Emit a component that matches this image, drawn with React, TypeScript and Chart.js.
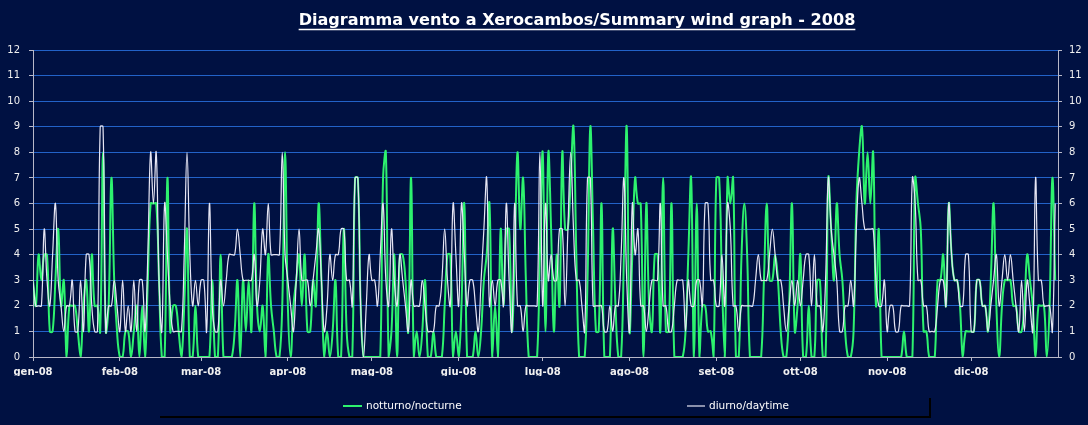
import React, { useEffect, useRef } from 'react';
import { Chart, registerables } from 'chart.js';

Chart.register(...registerables);

const TITLE = 'Diagramma vento a Xerocambos/Summary wind graph - 2008';
const seriesNames = ['notturno/nocturne', 'diurno/daytime'];
const monthLabels = ['gen-08', 'feb-08', 'mar-08', 'apr-08', 'mag-08', 'giu-08', 'lug-08', 'ago-08', 'set-08', 'ott-08', 'nov-08', 'dic-08'];
const monthStartDays = [0, 31, 60, 91, 121, 152, 182, 213, 244, 274, 305, 335];

// notturno / nocturne (green)
const nocturneJan = [3, 2, 4, 3, 4, 4, 1, 1, 3, 5, 2, 3, 0, 2, 2, 2, 1, 0, 2, 3, 1, 4, 2, 2, 1, 8, 1, 2, 7, 3, 1];
const nocturneFeb = [0, 0, 1, 1, 0, 1, 2, 0, 2, 0, 3, 6, 6, 6, 3, 0, 0, 7, 1, 2, 2, 1, 0, 2, 5, 0, 0, 2, 0];
const nocturneMar = [0, 0, 0, 0, 3, 0, 0, 4, 0, 0, 0, 0, 1, 3, 0, 3, 1, 3, 1, 6, 2, 1, 2, 0, 4, 2, 1, 0, 0, 2, 8];
const nocturneApr = [2, 0, 2, 3, 4, 2, 4, 1, 1, 3, 2, 6, 3, 0, 1, 0, 1, 3, 0, 0, 5, 1, 0, 0, 7, 7, 2, 0, 0, 0];
const nocturneMay = [0, 0, 0, 0, 7, 8, 0, 1, 4, 0, 4, 4, 3, 1, 7, 0, 1, 0, 1, 3, 0, 0, 1, 0, 0, 0, 2, 4, 4, 0, 1];
const nocturneJun = [0, 2, 6, 0, 0, 0, 1, 0, 1, 3, 4, 6, 0, 2, 0, 5, 2, 5, 5, 1, 4, 8, 5, 7, 3, 0, 0, 0, 0, 4];
const nocturneJul = [8, 1, 8, 5, 1, 4, 2, 8, 5, 5, 7, 9, 4, 0, 0, 0, 3, 9, 5, 1, 1, 6, 0, 0, 0, 5, 2, 0, 0, 4, 9];
const nocturneAug = [1, 4, 7, 6, 6, 0, 6, 2, 1, 4, 4, 1, 7, 1, 1, 6, 0, 0, 0, 0, 1, 4, 7, 0, 6, 0, 2, 2, 1, 1, 0];
const nocturneSep = [7, 7, 3, 0, 7, 6, 7, 0, 0, 4, 6, 4, 0, 0, 0, 0, 0, 3, 6, 3, 3, 4, 3, 1, 0, 0, 2, 6, 1, 2];
const nocturneOct = [4, 0, 0, 2, 0, 0, 3, 3, 0, 0, 7, 5, 3, 6, 4, 3, 1, 0, 0, 1, 6, 8, 9, 6, 8, 6, 8, 2, 5, 0, 0];
const nocturneNov = [0, 0, 0, 0, 0, 0, 1, 0, 0, 0, 7, 6, 5, 1, 1, 0, 0, 0, 3, 3, 4, 2, 6, 4, 3, 3, 2, 0, 1, 1];
const nocturneDec = [1, 1, 3, 3, 2, 2, 1, 3, 6, 2, 0, 2, 3, 3, 3, 2, 2, 1, 1, 2, 4, 3, 2, 0, 2, 2, 2, 0, 2, 7, 3];

// diurno / daytime (white)
const daytimeJan = [3, 2, 2, 2, 5, 3, 2, 4, 6, 3, 2, 1, 2, 2, 3, 1, 1, 3, 1, 4, 4, 2, 1, 1, 9, 9, 1, 2, 2, 3, 2];
const daytimeFeb = [1, 3, 1, 2, 1, 3, 1, 3, 3, 1, 4, 8, 6, 8, 3, 1, 6, 4, 2, 1, 1, 1, 1, 4, 8, 4, 2, 3, 2];
const daytimeMar = [3, 3, 1, 6, 2, 1, 1, 3, 2, 3, 4, 4, 4, 5, 4, 3, 3, 3, 3, 4, 2, 3, 5, 4, 6, 4, 4, 4, 4, 8, 4];
const daytimeApr = [3, 2, 1, 3, 5, 3, 3, 3, 2, 3, 4, 5, 3, 1, 2, 4, 3, 4, 4, 5, 5, 3, 3, 2, 7, 7, 2, 0, 2, 4];
const daytimeMay = [3, 3, 2, 4, 6, 3, 2, 5, 3, 2, 4, 3, 2, 1, 3, 2, 2, 2, 3, 2, 1, 1, 1, 2, 2, 3, 5, 3, 2, 6, 4];
const daytimeJun = [2, 6, 4, 2, 3, 3, 2, 1, 3, 5, 7, 2, 3, 2, 3, 3, 2, 6, 3, 1, 6, 2, 2, 1, 2, 2, 2, 2, 2, 8];
const daytimeJul = [2, 6, 3, 4, 3, 3, 5, 5, 2, 5, 8, 5, 3, 3, 2, 1, 7, 7, 2, 2, 2, 2, 1, 1, 2, 1, 2, 2, 4, 7, 3];
const daytimeAug = [1, 6, 4, 5, 2, 2, 1, 2, 3, 3, 3, 6, 2, 2, 1, 1, 2, 3, 3, 3, 1, 3, 2, 2, 3, 3, 2, 6, 6, 3, 3];
const daytimeSep = [2, 2, 4, 2, 6, 5, 2, 2, 1, 2, 2, 2, 2, 2, 3, 4, 3, 3, 3, 4, 5, 4, 3, 3, 2, 1, 2, 3, 2, 3];
const daytimeOct = [2, 3, 4, 4, 2, 4, 2, 2, 1, 3, 7, 5, 4, 3, 1, 1, 2, 2, 3, 2, 5, 7, 6, 5, 5, 5, 5, 3, 2, 2, 3];
const daytimeNov = [1, 2, 2, 1, 1, 2, 2, 2, 2, 7, 6, 3, 3, 2, 2, 1, 1, 1, 2, 3, 3, 2, 6, 4, 3, 3, 2, 2, 4, 4];
const daytimeDec = [1, 1, 3, 3, 2, 2, 1, 2, 3, 4, 2, 3, 4, 3, 4, 3, 2, 1, 3, 1, 3, 2, 1, 7, 3, 3, 2, 2, 2, 1, 6];

const nocturne = [
  ...nocturneJan, ...nocturneFeb, ...nocturneMar, ...nocturneApr, ...nocturneMay, ...nocturneJun,
  ...nocturneJul, ...nocturneAug, ...nocturneSep, ...nocturneOct, ...nocturneNov, ...nocturneDec,
];
const daytime = [
  ...daytimeJan, ...daytimeFeb, ...daytimeMar, ...daytimeApr, ...daytimeMay, ...daytimeJun,
  ...daytimeJul, ...daytimeAug, ...daytimeSep, ...daytimeOct, ...daytimeNov, ...daytimeDec,
];

const BG = '#001142';
const GRID = '#2262c8';
const AXIS = '#b8b8c8';
const GREEN = '#2df26e';
const WHITE = '#e6e6f4';
const TEXT = '#f0f0f0';

const bgPlugin = {
  id: 'bgFill',
  beforeDraw(chart: any) {
    const { ctx, width, height } = chart;
    ctx.save();
    ctx.fillStyle = BG;
    ctx.fillRect(0, 0, width, height);
    ctx.restore();
  },
};

const titlePlugin = {
  id: 'underlinedTitle',
  afterDraw(chart: any) {
    const ctx = chart.ctx;
    ctx.save();
    ctx.font = 'bold 18px "DejaVu Sans"';
    const w0 = ctx.measureText(TITLE).width;
    const size = (18 * 557) / w0;
    ctx.font = `bold ${size}px "DejaVu Sans"`;
    const w = ctx.measureText(TITLE).width;
    const cx = 577;
    ctx.fillStyle = '#ffffff';
    ctx.textAlign = 'center';
    ctx.textBaseline = 'alphabetic';
    ctx.fillText(TITLE, cx, 25);
    ctx.strokeStyle = '#ffffff';
    ctx.lineWidth = 1.5;
    ctx.beginPath();
    ctx.moveTo(cx - w / 2, 29.5);
    ctx.lineTo(cx + w / 2, 29.5);
    ctx.stroke();
    ctx.restore();
  },
};

const legendPlugin = {
  id: 'customLegend',
  afterDraw(chart: any) {
    const ctx = chart.ctx;
    ctx.save();
    ctx.fillStyle = '#000000';
    ctx.fillRect(160, 416, 771, 2);
    ctx.fillRect(929, 398, 2, 20);
    const y = 406;
    ctx.font = '10.5px "DejaVu Sans"';
    ctx.textAlign = 'left';
    ctx.textBaseline = 'middle';
    ctx.lineWidth = 2;
    ctx.strokeStyle = GREEN;
    ctx.beginPath();
    ctx.moveTo(343, y);
    ctx.lineTo(362, y);
    ctx.stroke();
    ctx.fillStyle = '#ffffff';
    ctx.fillText(seriesNames[0], 366, y);
    ctx.lineWidth = 1.2;
    ctx.strokeStyle = WHITE;
    ctx.beginPath();
    ctx.moveTo(687, y);
    ctx.lineTo(705, y);
    ctx.stroke();
    ctx.fillText(seriesNames[1], 709, y);
    ctx.restore();
  },
};

export default function App() {
  const ref = useRef<HTMLCanvasElement | null>(null);

  useEffect(() => {
    if (!ref.current) return;
    const yTickFont = { family: 'DejaVu Sans', size: 10 };
    const chart = new Chart(ref.current, {
      type: 'line',
      data: {
        datasets: [
          {
            label: seriesNames[1],
            data: daytime.map((y, i) => ({ x: i, y })),
            borderColor: WHITE,
            borderWidth: 1.2,
            pointRadius: 0,
            tension: 0.4,
            fill: false,
          },
          {
            label: seriesNames[0],
            data: nocturne.map((y, i) => ({ x: i, y })),
            borderColor: GREEN,
            borderWidth: 2,
            pointRadius: 0,
            tension: 0.4,
            fill: false,
          },
        ],
      },
      options: {
        responsive: false,
        animation: false,
        events: [],
        layout: { padding: { top: 50, bottom: 49, left: 0, right: 0 } },
        plugins: {
          legend: { display: false },
          title: { display: false },
          tooltip: { enabled: false },
        },
        scales: {
          x: {
            type: 'linear',
            min: 0,
            max: 366,
            afterBuildTicks: (s: any) => {
              s.ticks = monthStartDays.map((v) => ({ value: v }));
            },
            afterFit: (s: any) => {
              s.height = 19;
            },
            ticks: {
              autoSkip: false,
              maxRotation: 0,
              color: TEXT,
              padding: 5,
              font: { family: 'DejaVu Sans', size: 10, weight: 'bold' },
              callback: (_v: any, i: number) => monthLabels[i] ?? '',
            },
            grid: { drawOnChartArea: false, tickLength: 4, tickColor: AXIS },
            border: { color: AXIS, width: 1 },
          },
          y: {
            position: 'left',
            min: 0,
            max: 12,
            afterFit: (s: any) => {
              s.width = 33;
            },
            ticks: { stepSize: 1, color: TEXT, padding: 9, font: yTickFont },
            grid: { color: GRID, lineWidth: 1, tickColor: AXIS, tickLength: 4 },
            border: { color: AXIS, width: 1 },
          },
          y2: {
            position: 'right',
            min: 0,
            max: 12,
            afterFit: (s: any) => {
              s.width = 30;
            },
            ticks: { stepSize: 1, color: TEXT, padding: 7, font: yTickFont },
            grid: { drawOnChartArea: false, tickColor: AXIS, tickLength: 4 },
            border: { color: AXIS, width: 1 },
          },
        },
      } as any,
      plugins: [bgPlugin, titlePlugin, legendPlugin],
    });
    return () => chart.destroy();
  }, []);

  return (
    <div style={{ position: 'absolute', left: 0, top: 0, width: 1088, height: 425 }}>
      <canvas ref={ref} width={1088} height={425} style={{ display: 'block', width: 1088, height: 425 }} />
    </div>
  );
}
